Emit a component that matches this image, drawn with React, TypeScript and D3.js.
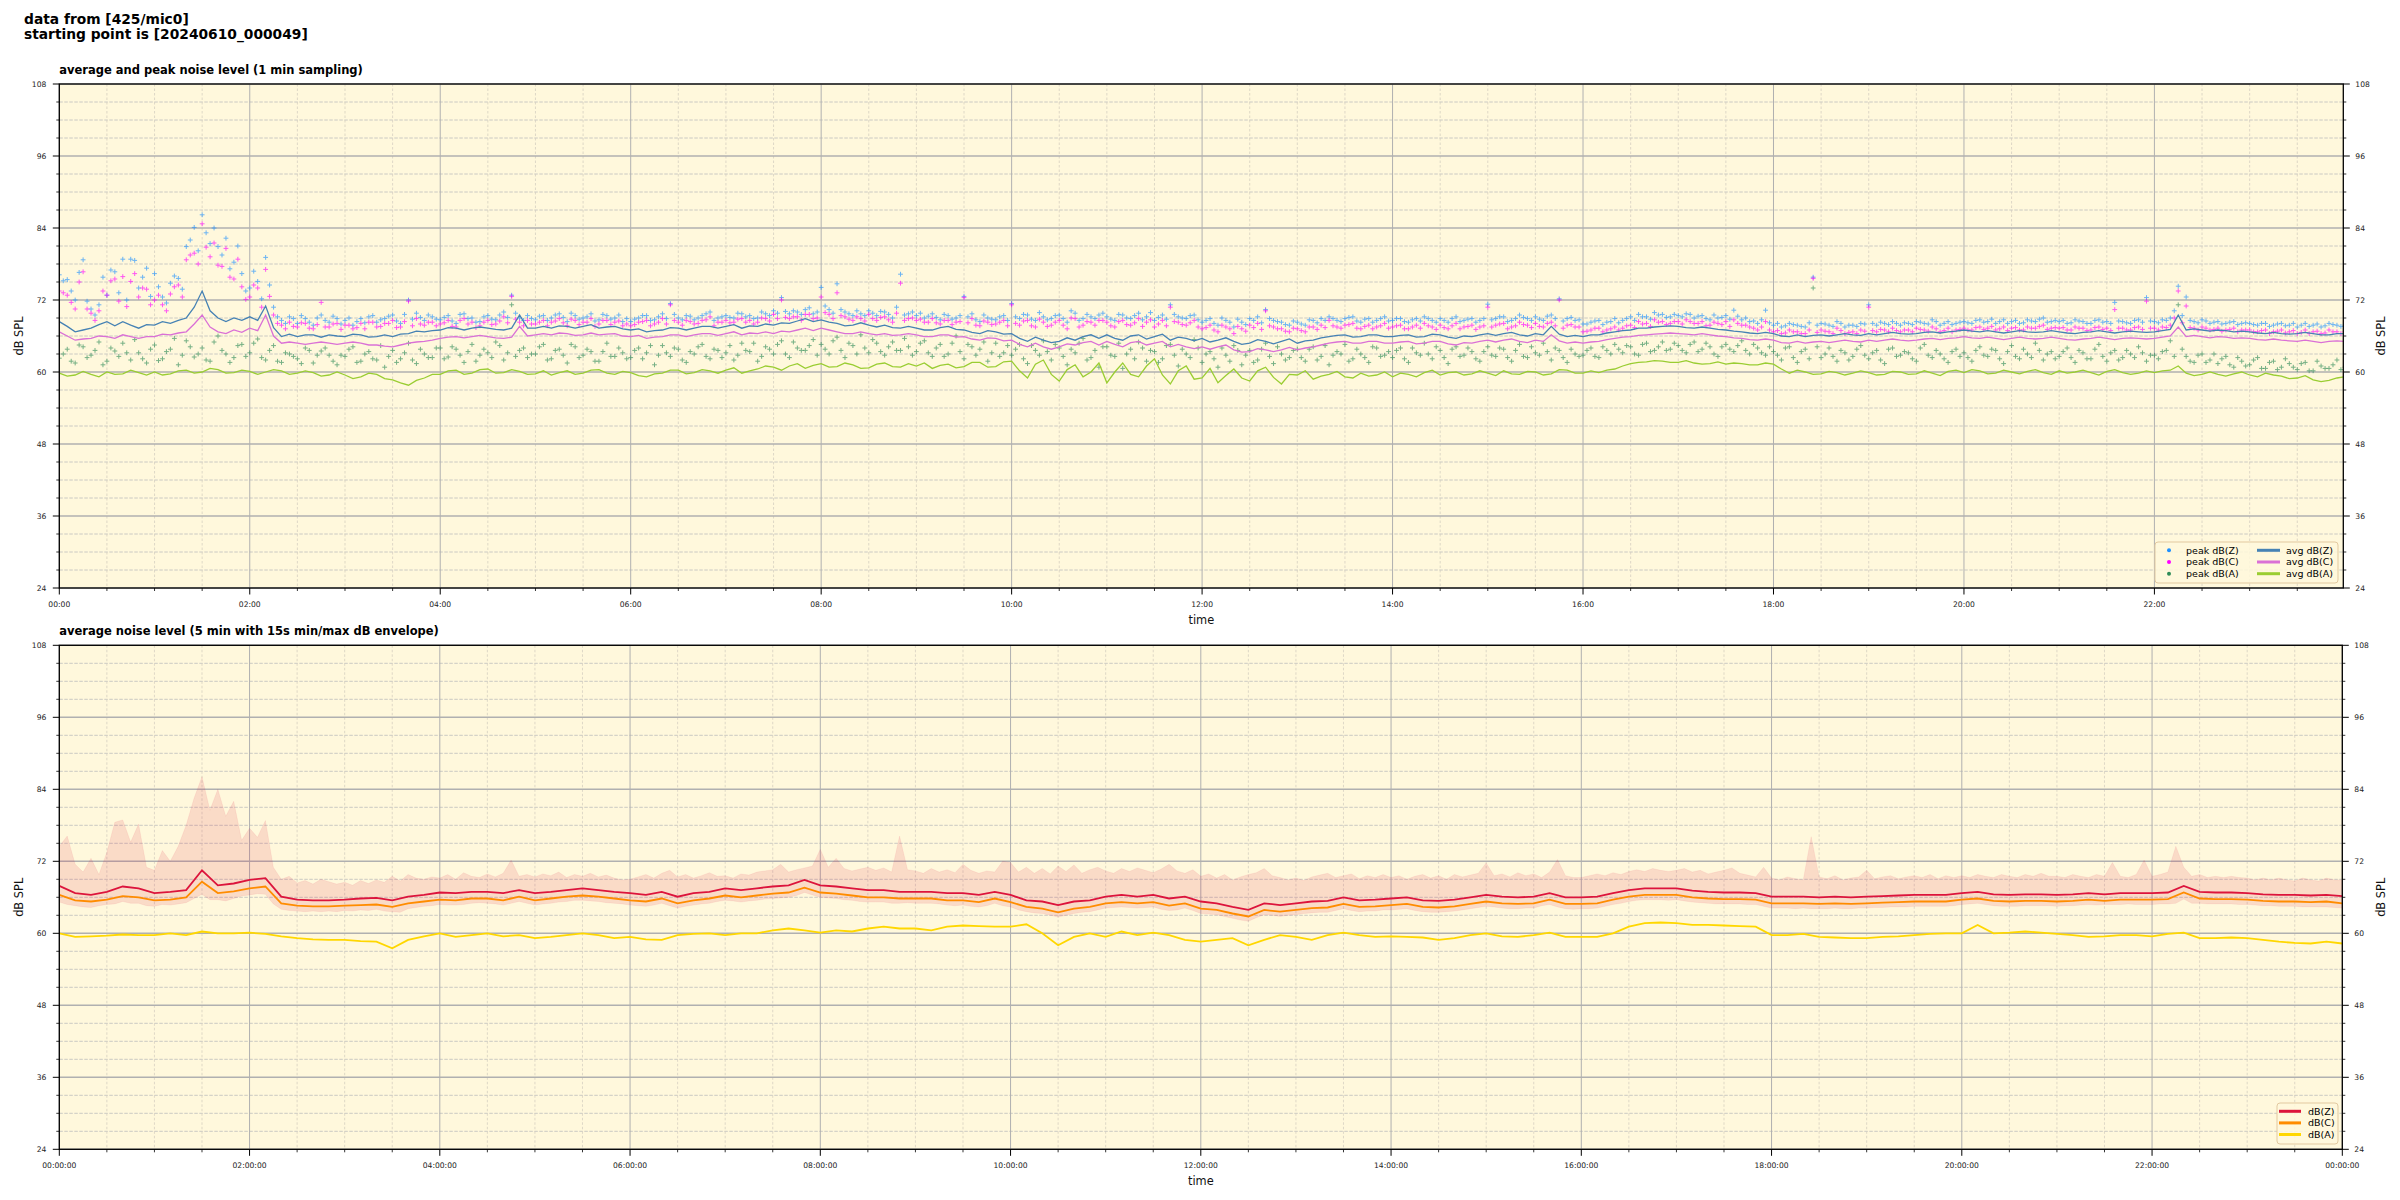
import React from 'react';
import * as d3 from 'd3';

// ---------------- DATA ----------------
// top panel: averaged levels, 5-minute samples (index * 5 min)
const avgZ = [
  68.4, 67.6, 66.7, 67.0, 67.3, 67.9, 68.4, 67.7, 68.4, 67.8, 67.3, 67.9,
  67.8, 68.4, 68.1, 68.6, 69.0, 70.8, 73.5, 70.2, 69.0, 68.4, 69.0, 68.6,
  69.2, 68.6, 71.0, 67.4, 65.9, 66.3, 65.9, 66.2, 66.2, 65.8, 66.2, 66.0,
  65.9, 66.3, 66.2, 65.8, 65.9, 66.2, 65.9, 66.3, 66.4, 66.8, 66.7, 66.9,
  67.0, 67.4, 67.3, 67.0, 67.3, 67.5, 67.3, 67.1, 67.0, 67.3, 69.5, 67.3,
  67.3, 67.6, 67.3, 67.7, 67.6, 67.3, 67.6, 67.9, 67.3, 67.5, 67.6, 67.2,
  67.0, 67.2, 66.7, 66.9, 67.0, 67.4, 67.3, 67.0, 67.3, 67.6, 67.6, 67.3,
  67.6, 67.9, 67.3, 67.7, 67.6, 68.0, 67.8, 68.2, 68.1, 68.5, 68.9, 68.4,
  68.7, 68.3, 68.1, 67.7, 67.8, 68.2, 67.8, 67.5, 67.8, 67.4, 67.3, 67.6,
  67.3, 67.0, 67.0, 67.4, 67.6, 67.1, 67.0, 66.6, 66.4, 66.9, 66.7, 66.3,
  66.4, 65.6, 65.1, 65.8, 65.3, 64.9, 65.1, 65.7, 65.3, 65.9, 66.2, 65.6,
  66.2, 65.6, 65.3, 66.0, 66.2, 65.5, 65.9, 66.3, 65.3, 65.8, 65.6, 65.2,
  65.6, 65.0, 65.3, 65.7, 65.1, 64.6, 64.8, 65.4, 65.1, 64.7, 65.1, 65.5,
  64.8, 65.2, 65.3, 65.7, 65.9, 66.1, 66.2, 65.8, 65.9, 66.2, 66.2, 65.9,
  65.9, 66.1, 66.2, 65.8, 65.9, 66.3, 66.2, 65.8, 65.6, 66.0, 65.9, 66.2,
  66.4, 66.1, 66.4, 66.6, 66.2, 66.0, 66.4, 66.2, 67.6, 66.3, 65.9, 66.1,
  65.9, 66.2, 66.2, 66.5, 66.7, 66.9, 67.0, 67.3, 67.3, 67.5, 67.6, 67.7,
  67.6, 67.4, 67.3, 67.5, 67.3, 67.1, 67.0, 66.8, 66.7, 66.5, 66.4, 66.6,
  66.4, 66.0, 65.9, 66.2, 65.9, 66.1, 66.2, 66.0, 66.2, 66.4, 66.2, 66.1,
  66.4, 66.2, 66.4, 66.6, 66.4, 66.3, 66.4, 66.6, 66.7, 66.5, 66.7, 66.8,
  67.0, 66.8, 66.7, 66.9, 66.7, 66.5, 66.7, 66.9, 66.7, 66.6, 66.7, 66.9,
  66.7, 66.5, 66.4, 66.6, 66.7, 66.9, 66.7, 66.5, 66.7, 66.8, 66.7, 66.6,
  66.7, 66.9, 67.1, 69.5, 67.0, 67.2, 67.0, 66.8, 67.0, 66.9, 66.7, 66.8,
  66.7, 66.5, 66.4, 66.6, 66.4, 66.3, 66.4, 66.6, 66.4, 66.2, 66.2, 66.4,
  66.4,
];
const avgC = [
  66.7, 66.0, 65.3, 65.5, 65.6, 66.0, 65.9, 65.6, 66.2, 65.9, 65.6, 65.9,
  65.9, 66.3, 66.2, 66.5, 66.7, 68.0, 69.5, 67.5, 66.7, 66.4, 67.0, 66.6,
  67.3, 66.9, 69.5, 66.0, 64.8, 65.0, 64.8, 64.6, 64.8, 65.0, 64.8, 64.6,
  64.8, 65.0, 64.8, 64.5, 64.5, 64.3, 64.2, 64.5, 64.8, 65.0, 65.1, 65.3,
  65.6, 65.8, 65.9, 65.7, 65.9, 66.1, 65.9, 65.7, 65.6, 65.8, 67.6, 66.0,
  66.2, 66.4, 66.2, 66.5, 66.4, 66.1, 66.2, 66.5, 66.2, 66.3, 66.4, 66.0,
  65.9, 66.1, 65.6, 65.8, 65.9, 66.2, 66.2, 65.9, 66.2, 66.4, 66.4, 66.1,
  66.4, 66.7, 66.2, 66.5, 66.4, 66.7, 66.4, 66.8, 66.7, 67.0, 67.3, 66.9,
  67.3, 67.0, 66.7, 66.4, 66.4, 66.7, 66.4, 66.2, 66.4, 66.1, 66.2, 66.4,
  66.2, 65.9, 65.9, 66.2, 66.2, 65.8, 65.9, 65.5, 65.3, 65.7, 65.6, 65.2,
  65.3, 64.6, 64.2, 64.8, 64.2, 63.8, 64.2, 64.7, 64.5, 64.9, 65.1, 64.5,
  65.1, 64.6, 64.2, 64.9, 65.1, 64.5, 64.8, 65.1, 64.2, 64.6, 64.2, 63.9,
  64.2, 63.8, 64.2, 64.5, 63.7, 63.3, 63.4, 63.9, 63.7, 63.4, 63.7, 64.1,
  63.7, 64.0, 64.2, 64.5, 64.8, 65.0, 65.1, 64.8, 64.8, 65.1, 65.1, 64.8,
  64.8, 65.0, 65.1, 64.7, 64.8, 65.1, 65.1, 64.7, 64.5, 64.9, 64.8, 65.1,
  65.3, 65.0, 65.3, 65.5, 65.1, 64.9, 65.3, 65.1, 66.2, 65.2, 64.8, 65.0,
  64.8, 65.0, 65.1, 65.4, 65.6, 65.8, 65.9, 66.1, 66.2, 66.3, 66.4, 66.5,
  66.4, 66.3, 66.2, 66.4, 66.2, 66.0, 65.9, 65.7, 65.6, 65.4, 65.3, 65.5,
  65.3, 64.9, 64.8, 65.1, 64.8, 65.0, 65.1, 64.9, 65.1, 65.3, 65.1, 65.0,
  65.3, 65.1, 65.3, 65.5, 65.3, 65.2, 65.3, 65.5, 65.6, 65.4, 65.6, 65.7,
  65.9, 65.7, 65.6, 65.8, 65.6, 65.4, 65.6, 65.8, 65.6, 65.5, 65.6, 65.8,
  65.6, 65.4, 65.3, 65.5, 65.6, 65.8, 65.6, 65.4, 65.6, 65.7, 65.6, 65.5,
  65.6, 65.8, 66.0, 67.5, 65.9, 66.1, 65.9, 65.7, 65.9, 65.8, 65.6, 65.7,
  65.6, 65.4, 65.3, 65.5, 65.3, 65.2, 65.1, 65.3, 65.1, 64.9, 65.1, 65.2,
  65.1,
];
const avgA = [
  59.8, 59.3, 59.5, 60.1, 59.6, 59.2, 60.0, 59.6, 59.7, 60.3, 59.9, 59.5,
  60.0, 59.5, 59.7, 60.2, 60.3, 59.8, 60.0, 60.6, 60.4, 59.8, 59.9, 60.3,
  60.1, 59.6, 60.0, 60.4, 60.2, 59.6, 59.8, 60.2, 59.9, 59.3, 59.5, 60.0,
  59.5, 58.9, 59.2, 59.8, 59.6, 58.9, 58.7, 58.2, 57.8, 58.6, 59.0, 59.6,
  59.6, 60.2, 60.3, 59.6, 59.8, 60.4, 60.5, 59.8, 59.9, 60.4, 60.1, 59.6,
  59.7, 60.2, 59.5, 59.9, 60.2, 59.6, 59.8, 60.3, 60.4, 59.8, 59.6, 60.1,
  59.9, 59.4, 59.2, 59.7, 59.8, 60.3, 60.3, 59.7, 59.9, 60.4, 60.2, 59.8,
  60.3, 60.7, 59.8, 60.2, 60.5, 61.0, 60.8, 60.3, 61.0, 61.4, 60.6, 61.1,
  61.4, 60.8, 60.9, 61.5, 61.2, 60.6, 60.7, 61.3, 61.5, 60.9, 60.8, 61.4,
  61.0, 61.5, 60.6, 61.1, 61.3, 60.7, 60.9, 61.6, 61.6, 60.8, 60.9, 61.7,
  61.8, 60.2, 59.0, 61.3, 62.0, 59.6, 58.5, 60.4, 61.2, 59.2, 60.0, 61.5,
  58.2, 60.0, 61.5, 59.6, 59.2, 61.0, 62.2, 59.5, 58.0, 60.2, 61.0, 58.8,
  59.0, 60.6, 58.2, 59.4, 60.5, 59.0, 58.5, 60.2, 60.8, 59.1, 58.0, 59.6,
  59.5, 60.2, 58.8, 59.3, 59.6, 60.1, 59.2, 59.0, 59.8, 59.3, 59.5, 60.0,
  59.2, 59.8, 59.6, 59.2, 59.9, 60.3, 59.5, 59.9, 60.0, 59.5, 59.7, 60.2,
  59.8, 59.4, 60.2, 59.7, 59.6, 60.1, 60.0, 59.5, 59.7, 60.4, 60.3, 59.8,
  59.8, 60.2, 59.9, 60.3, 60.5, 61.0, 61.4, 61.6, 61.7, 61.9, 61.8, 61.6,
  61.6, 61.9, 61.5, 61.3, 61.4, 61.7, 61.3, 61.5, 61.4, 61.2, 61.2, 61.5,
  61.3, 60.5, 59.8, 60.3, 60.0, 59.6, 59.7, 60.1, 59.9, 59.5, 59.8, 60.2,
  59.9, 59.5, 59.6, 60.1, 60.0, 59.6, 59.7, 60.2, 59.8, 59.4, 60.1, 60.3,
  59.9, 60.4, 60.2, 59.7, 59.8, 60.3, 60.0, 59.7, 60.1, 60.4, 59.9, 59.6,
  60.2, 59.8, 60.0, 60.3, 59.9, 59.5, 60.1, 60.4, 59.9, 59.6, 59.8, 60.2,
  59.9, 60.2, 60.3, 61.0, 59.8, 59.4, 59.6, 60.0, 59.6, 59.3, 59.7, 60.0,
  59.5, 59.2, 59.8, 59.5, 59.3, 58.9, 59.0, 59.4, 58.7, 58.4, 58.6, 59.0,
  59.2,
];
// top panel: 1-min peaks, samples at index * 5 min
const peakZ = [
  76.2, 75.4, 72.0, 78.7, 70.5, 71.2, 72.8, 76.7, 78.8, 78.8, 74.0, 77.3,
  76.4, 72.5, 74.8, 75.6, 80.9, 84.1, 86.2, 81.4, 80.9, 82.3, 78.3, 76.4,
  74.0, 75.1, 79.1, 70.8, 68.6, 69.2, 68.1, 68.9, 67.8, 69.5, 68.3, 68.9,
  68.6, 67.8, 68.9, 69.2, 68.3, 68.9, 69.5, 68.1, 72.0, 69.8, 68.6, 69.2,
  68.7, 69.4, 68.1, 69.7, 69.0, 68.4, 69.4, 68.7, 70.0, 72.8, 69.0, 69.4,
  68.7, 69.4, 69.0, 69.7, 68.4, 69.4, 69.0, 69.7, 68.7, 69.4, 69.0, 68.4,
  68.4, 69.0, 69.4, 68.7, 69.7, 71.4, 69.0, 69.4, 68.7, 69.4, 70.0, 69.0,
  69.4, 69.0, 69.7, 69.4, 69.0, 69.7, 70.2, 72.4, 69.7, 70.0, 70.4, 69.7,
  74.1, 70.4, 74.7, 70.0, 69.4, 69.7, 70.2, 69.4, 70.0, 69.0, 76.3, 69.7,
  69.4, 69.0, 69.7, 68.7, 69.4, 69.0, 72.6, 69.7, 68.4, 69.0, 68.7, 69.4,
  71.4, 68.9, 69.5, 68.6, 69.2, 68.9, 69.5, 68.3, 69.8, 68.9, 69.2, 69.5,
  69.2, 68.6, 69.5, 68.9, 69.8, 69.2, 68.6, 69.5, 71.2, 69.2, 68.9, 69.5,
  68.3, 68.9, 67.8, 68.6, 67.5, 68.3, 68.9, 69.2, 70.4, 68.6, 68.3, 67.8,
  68.3, 67.8, 68.6, 68.9, 69.2, 68.6, 68.9, 69.2, 68.3, 68.9, 68.6, 69.2,
  68.6, 68.9, 68.3, 68.9, 69.2, 68.6, 68.9, 68.3, 69.2, 68.6, 68.9, 68.6,
  71.3, 68.9, 69.2, 68.6, 69.5, 68.9, 69.2, 68.6, 69.5, 72.2, 68.9, 68.6,
  68.0, 68.3, 68.6, 68.3, 68.9, 68.6, 69.2, 69.6, 69.2, 69.9, 69.6, 69.2,
  69.4, 69.7, 69.0, 69.4, 68.7, 69.0, 69.4, 70.3, 68.7, 68.4, 68.1, 70.3,
  67.8, 67.5, 68.1, 67.8, 67.5, 75.8, 68.1, 67.8, 68.4, 67.5, 67.8, 68.1,
  71.2, 67.8, 68.1, 68.4, 67.8, 68.1, 68.4, 68.1, 68.7, 67.8, 68.4, 68.1,
  68.4, 68.1, 68.7, 68.4, 68.1, 68.7, 68.4, 68.1, 68.7, 68.4, 69.0, 68.4,
  68.4, 68.1, 68.7, 68.4, 68.1, 68.7, 68.4, 71.6, 68.4, 68.1, 68.7, 72.4,
  68.4, 68.7, 69.0, 74.3, 72.5, 68.4, 68.7, 68.1, 68.4, 68.1, 68.4, 68.1,
  68.1, 67.8, 68.1, 67.8, 68.1, 67.8, 67.5, 68.1, 67.8, 67.5, 68.1, 67.8,
  67.8,
];
const peakC = [
  73.5, 72.8, 70.5, 76.7, 69.8, 70.2, 72.8, 75.5, 75.9, 75.1, 72.5, 73.8,
  72.0, 71.2, 73.0, 74.5, 78.7, 79.8, 84.7, 79.2, 77.8, 80.6, 75.5, 74.2,
  72.5, 74.0, 77.1, 69.5, 67.8, 68.3, 67.5, 68.1, 67.2, 71.6, 67.5, 68.1,
  67.8, 67.2, 68.1, 68.3, 67.5, 68.1, 68.6, 67.5, 71.8, 68.9, 67.8, 68.3,
  68.0, 68.6, 67.5, 68.9, 68.3, 67.7, 68.6, 68.0, 69.2, 72.6, 68.3, 68.6,
  68.0, 68.6, 68.3, 68.9, 67.7, 68.6, 68.3, 68.9, 68.0, 68.6, 68.3, 67.7,
  67.7, 68.3, 68.6, 68.0, 68.9, 71.2, 68.3, 68.6, 68.0, 68.6, 69.2, 68.3,
  68.6, 68.3, 68.9, 68.6, 68.3, 68.9, 69.6, 72.0, 68.9, 69.2, 69.6, 68.9,
  72.5, 69.6, 73.2, 69.2, 68.6, 68.9, 69.6, 68.6, 69.2, 68.3, 74.8, 68.9,
  68.6, 68.3, 68.9, 68.0, 68.6, 68.3, 72.4, 68.9, 67.7, 68.3, 68.0, 68.6,
  71.2, 67.8, 68.6, 67.5, 68.3, 67.8, 68.6, 67.2, 68.9, 67.8, 68.3, 68.6,
  68.3, 67.5, 68.6, 67.8, 68.9, 68.3, 67.5, 68.6, 70.8, 68.3, 67.8, 68.6,
  67.2, 67.8, 66.7, 67.5, 66.4, 67.2, 67.8, 68.1, 70.2, 67.5, 67.2, 66.7,
  67.2, 66.7, 67.5, 67.8, 68.6, 67.5, 67.8, 68.1, 67.2, 67.8, 67.5, 68.1,
  67.5, 67.8, 67.2, 67.8, 68.1, 67.5, 67.8, 67.2, 68.1, 67.5, 67.8, 67.5,
  70.8, 67.8, 68.1, 67.5, 68.3, 67.8, 68.1, 67.5, 68.3, 72.0, 67.8, 67.5,
  66.7, 67.0, 67.3, 67.0, 67.5, 67.3, 67.8, 68.4, 68.1, 68.7, 68.4, 68.1,
  68.4, 68.7, 68.1, 68.4, 67.8, 68.1, 68.4, 68.7, 67.8, 67.5, 67.0, 68.4,
  66.7, 66.4, 67.0, 66.7, 66.4, 75.6, 67.0, 66.7, 67.3, 66.4, 66.7, 67.0,
  70.8, 66.7, 67.0, 67.3, 66.7, 67.0, 67.3, 67.0, 67.5, 66.7, 67.3, 67.0,
  67.3, 67.0, 67.5, 67.3, 67.0, 67.5, 67.3, 67.0, 67.5, 67.3, 67.8, 67.3,
  67.3, 67.0, 67.5, 67.3, 67.0, 67.5, 67.3, 70.4, 67.3, 67.0, 67.5, 71.8,
  67.3, 67.5, 67.8, 73.5, 71.0, 67.3, 67.5, 67.0, 67.3, 67.0, 67.3, 67.0,
  67.0, 66.7, 67.0, 66.7, 67.0, 66.7, 66.4, 67.0, 66.7, 66.4, 67.0, 66.7,
  66.7,
];
const peakA = [
  62.3, 63.8, 61.5, 64.2, 62.8, 65.0, 61.8, 63.5, 64.8, 62.0, 63.2, 61.5,
  64.5, 62.2, 63.8, 61.2, 65.2, 62.5, 64.0, 61.8, 66.0, 63.0, 62.4, 64.6,
  63.2, 65.5, 62.0, 64.4, 61.6, 63.0, 62.2, 64.0, 61.5, 63.5, 62.8, 61.2,
  62.6, 64.2, 61.8, 63.4, 62.0, 60.8, 63.6, 62.2, 64.8, 61.4, 63.0, 62.4,
  64.0, 62.5, 63.8, 61.6, 64.6, 62.8, 63.2, 65.0, 62.0, 71.2, 63.6, 62.4,
  63.0, 64.6, 62.2, 63.8, 61.5, 64.2, 62.8, 63.4, 61.8, 64.8, 62.6, 63.2,
  62.4, 64.0, 63.2, 61.2, 64.4, 62.6, 63.8, 61.6, 63.0, 64.6, 62.2, 63.6,
  63.2, 62.0, 64.8, 63.4, 61.8, 64.2, 63.0, 65.2, 62.4, 64.0, 63.6, 65.4,
  64.6, 63.0, 65.8, 62.4, 64.4, 66.2, 63.2, 64.8, 62.8, 65.0, 63.6, 64.2,
  63.4, 65.2, 62.6, 64.6, 63.0, 66.0, 62.2, 64.2, 63.8, 61.8, 64.8, 63.2,
  62.8, 64.6, 61.4, 63.6, 65.2, 62.0, 64.0, 61.2, 63.2, 65.6, 62.4, 60.8,
  64.2, 62.6, 60.6, 63.8, 65.0, 61.8, 63.4, 62.2, 64.6, 61.0, 63.0, 65.4,
  61.6, 63.4, 60.8, 62.8, 64.4, 61.2, 63.6, 62.0, 64.8, 61.4, 63.0, 62.4,
  63.8, 61.8, 64.2, 62.6, 61.2, 63.4, 64.6, 62.2, 63.0, 61.6, 64.0, 62.8,
  62.4, 64.0, 61.6, 63.2, 64.8, 62.2, 63.6, 61.4, 64.2, 62.8, 63.4, 61.8,
  64.2, 62.6, 63.8, 61.8, 64.6, 62.4, 63.2, 64.8, 62.0, 63.6, 61.6, 63.0,
  62.8, 64.0, 62.4, 63.6, 64.6, 63.2, 64.2, 62.8, 64.8, 63.6, 65.0, 63.8,
  64.4, 63.2, 65.0, 63.8, 64.2, 62.6, 64.6, 63.4, 65.2, 63.0, 64.0, 62.8,
  63.4, 62.0, 64.2, 61.6, 63.8, 74.0, 62.4, 64.0, 61.8, 63.2, 62.6, 64.4,
  62.2, 63.6, 61.4, 64.0, 62.8, 63.2, 61.8, 64.6, 62.4, 63.0, 61.6, 63.8,
  63.2, 61.8, 64.2, 62.6, 63.6, 61.4, 64.4, 62.2, 63.0, 64.8, 62.0, 63.4,
  62.6, 64.0, 61.6, 63.2, 62.2, 64.6, 61.8, 63.6, 62.4, 63.0, 64.2, 61.8,
  62.8, 63.4, 65.2, 71.2, 62.6, 61.6, 63.0, 62.0, 61.4, 62.6, 60.8, 61.8,
  61.2, 62.4, 60.6, 61.8, 60.8, 61.4, 60.4, 61.6, 60.2, 61.0, 60.6, 62.0,
  60.8,
];
// top panel: 1-min peaks, samples at index * 5 min + 2.5 min
const peakZMid = [
  75.2, 73.5, 76.6, 71.8, 69.5, 75.8, 77.0, 73.2, 72.0, 78.6, 75.8, 72.6,
  74.2, 71.5, 76.0, 73.8, 82.0, 80.2, 83.2, 84.0, 79.5, 77.2, 81.0, 73.5,
  76.8, 72.2, 74.5, 69.2, 68.1, 68.9, 69.4, 68.3, 69.0, 68.6, 69.3, 68.0,
  69.0, 68.4, 68.2, 69.4, 68.7, 69.3, 68.5, 69.6, 68.8, 69.1, 69.5, 68.8,
  69.1, 68.5, 69.6, 68.9, 68.3, 69.2, 68.8, 69.5, 69.1, 69.8, 68.6, 68.9,
  69.3, 68.6, 69.5, 69.1, 69.8, 68.8, 69.2, 68.5, 69.6, 68.8, 69.5, 68.9,
  68.8, 69.4, 68.6, 69.2, 68.9, 69.6, 68.7, 69.3, 69.0, 69.7, 68.6, 69.2,
  69.1, 69.8, 69.2, 68.9, 70.0, 69.4, 69.8, 70.1, 70.2, 69.6, 70.7, 70.0,
  71.0, 69.8, 70.4, 69.7, 70.2, 69.4, 69.8, 70.1, 69.6, 70.8, 69.5, 70.0,
  69.8, 69.3, 69.1, 69.6, 68.8, 69.4, 69.2, 68.7, 69.5, 68.8, 69.2, 68.6,
  69.2, 69.6, 68.8, 69.9, 68.7, 69.4, 68.9, 70.2, 68.6, 69.6, 68.9, 69.8,
  68.8, 69.6, 69.0, 69.4, 68.7, 69.9, 69.1, 68.8, 69.6, 69.0, 69.4, 68.7,
  68.6, 68.1, 69.0, 68.3, 68.8, 67.9, 68.6, 68.2, 68.9, 68.4, 67.9, 68.5,
  68.0, 68.7, 68.2, 68.6, 68.9, 68.4, 69.1, 68.5, 68.8, 68.3, 68.9, 68.5,
  68.9, 68.4, 68.7, 68.5, 68.9, 68.3, 68.6, 68.9, 68.4, 68.8, 68.3, 68.9,
  68.7, 69.2, 68.4, 68.9, 69.1, 68.6, 68.8, 69.3, 68.9, 68.5, 69.1, 68.7,
  68.0, 68.5, 67.9, 68.4, 68.2, 68.9, 68.6, 69.2, 68.8, 69.5, 69.1, 69.6,
  69.2, 69.6, 69.3, 68.9, 69.5, 69.1, 68.8, 69.3, 69.0, 68.5, 68.7, 68.2,
  68.1, 67.7, 67.9, 67.6, 68.2, 67.8, 68.0, 67.6, 68.1, 67.8, 67.6, 68.0,
  68.1, 68.3, 67.9, 68.1, 68.2, 67.9, 68.3, 68.0, 68.4, 68.1, 67.9, 68.3,
  68.2, 68.6, 68.3, 68.8, 68.4, 68.1, 68.6, 68.2, 68.5, 68.8, 68.3, 68.6,
  68.6, 68.2, 68.5, 68.1, 68.6, 68.3, 68.1, 68.5, 68.2, 68.6, 68.3, 68.5,
  68.2, 68.6, 70.2, 69.4, 68.6, 68.2, 68.5, 68.3, 68.0, 68.3, 67.9, 68.2,
  67.9, 68.1, 67.6, 68.0, 67.7, 68.1, 67.8, 67.6, 68.0, 67.7, 67.9, 67.6,
];
const peakCMid = [
  73.2, 71.6, 75.0, 70.5, 68.6, 73.5, 75.2, 71.8, 70.9, 76.4, 74.0, 71.2,
  72.8, 70.2, 74.2, 72.5, 79.5, 78.0, 80.8, 81.5, 77.6, 75.8, 78.8, 72.1,
  74.5, 70.8, 72.6, 68.1, 67.2, 67.6, 68.2, 67.3, 67.9, 67.5, 68.0, 67.1,
  67.8, 67.4, 67.2, 68.3, 67.6, 68.1, 67.4, 68.4, 67.7, 68.0, 68.3, 67.7,
  68.2, 67.6, 68.6, 68.0, 67.4, 68.3, 67.9, 68.5, 68.2, 68.8, 67.7, 68.0,
  68.3, 67.7, 68.5, 68.2, 68.8, 67.9, 68.3, 67.6, 68.6, 67.9, 68.5, 68.0,
  67.9, 68.4, 67.7, 68.3, 68.0, 68.6, 67.8, 68.4, 68.1, 68.7, 67.7, 68.3,
  68.2, 68.8, 68.3, 68.0, 69.0, 68.5, 68.9, 69.1, 69.2, 68.6, 69.6, 69.0,
  69.9, 68.9, 69.4, 68.8, 69.2, 68.5, 68.9, 69.1, 68.7, 69.8, 68.6, 69.0,
  68.8, 68.3, 68.2, 68.6, 67.9, 68.4, 68.2, 67.8, 68.5, 67.9, 68.3, 67.7,
  68.1, 68.5, 67.7, 68.8, 67.6, 68.3, 67.8, 69.0, 67.5, 68.4, 67.8, 68.6,
  67.7, 68.4, 67.9, 68.2, 67.6, 68.7, 68.0, 67.7, 68.4, 67.9, 68.2, 67.5,
  67.4, 67.0, 67.8, 67.2, 67.6, 66.8, 67.4, 67.1, 67.7, 67.2, 66.8, 67.3,
  66.9, 67.5, 67.1, 67.4, 67.7, 67.3, 67.9, 67.3, 67.6, 67.2, 67.7, 67.3,
  67.7, 67.2, 67.5, 67.3, 67.7, 67.1, 67.4, 67.7, 67.2, 67.6, 67.1, 67.7,
  67.5, 68.0, 67.2, 67.7, 67.9, 67.4, 67.6, 68.1, 67.7, 67.3, 67.9, 67.5,
  66.8, 67.3, 66.7, 67.2, 67.0, 67.7, 67.4, 68.0, 67.6, 68.3, 67.9, 68.4,
  68.0, 68.4, 68.1, 67.7, 68.3, 67.9, 67.6, 68.1, 67.8, 67.3, 67.5, 67.0,
  66.9, 66.5, 66.7, 66.4, 67.0, 66.6, 66.8, 66.4, 66.9, 66.6, 66.4, 66.8,
  66.9, 67.1, 66.7, 66.9, 67.0, 66.7, 67.1, 66.8, 67.2, 66.9, 66.7, 67.1,
  67.0, 67.4, 67.1, 67.6, 67.2, 66.9, 67.4, 67.0, 67.3, 67.6, 67.1, 67.4,
  67.4, 67.0, 67.3, 66.9, 67.4, 67.1, 66.9, 67.3, 67.0, 67.4, 67.1, 67.3,
  67.0, 67.4, 69.0, 68.2, 67.4, 67.0, 67.3, 67.1, 66.8, 67.1, 66.7, 67.0,
  66.7, 66.9, 66.4, 66.8, 66.5, 66.9, 66.6, 66.4, 66.8, 66.5, 66.7, 66.4,
];
const peakAMid = [
  63.0, 61.8, 64.5, 62.4, 63.6, 61.2, 64.0, 62.6, 63.2, 65.4, 62.2, 63.8,
  61.9, 63.4, 65.6, 62.8, 64.2, 63.0, 62.0, 65.0, 63.6, 61.6, 64.4, 62.6,
  64.8, 62.4, 63.6, 61.8, 63.2, 62.6, 61.4, 63.6, 62.8, 64.0, 61.8, 62.8,
  63.8, 61.6, 63.0, 62.2, 64.4, 62.6, 61.6, 63.2, 62.0, 63.8, 62.4, 64.0,
  62.2, 64.2, 62.8, 63.4, 61.8, 63.8, 62.4, 64.4, 63.2, 62.6, 64.0, 63.0,
  64.2, 62.0, 63.6, 62.8, 64.6, 62.4, 63.8, 61.8, 63.4, 62.6, 64.0, 62.2,
  63.6, 62.2, 64.4, 62.8, 63.2, 64.0, 62.0, 63.4, 64.2, 62.6, 63.8, 62.4,
  64.4, 62.8, 63.6, 64.8, 62.6, 63.8, 64.6, 63.0, 65.0, 63.6, 64.4, 62.8,
  63.8, 65.2, 63.6, 64.8, 63.0, 64.0, 65.4, 63.4, 64.2, 63.6, 65.6, 62.8,
  64.8, 63.2, 64.0, 62.6, 64.8, 63.4, 64.6, 62.8, 65.0, 63.2, 62.6, 64.4,
  63.8, 62.2, 64.4, 62.8, 63.4, 64.6, 62.6, 63.8, 64.8, 62.0, 63.6, 64.2,
  62.8, 64.8, 63.0, 62.2, 64.0, 63.6, 61.6, 64.4, 62.8, 63.8, 62.4, 64.0,
  63.0, 62.2, 64.0, 61.8, 63.6, 62.8, 61.6, 63.8, 62.6, 64.2, 62.0, 63.6,
  62.4, 63.8, 62.0, 64.4, 62.8, 63.0, 61.8, 63.8, 62.4, 64.2, 62.6, 63.4,
  63.6, 62.2, 64.0, 62.8, 63.0, 64.2, 62.4, 63.8, 62.6, 64.0, 62.2, 63.4,
  62.8, 64.0, 62.4, 63.6, 62.6, 64.2, 62.8, 63.4, 64.0, 62.4, 63.8, 62.6,
  63.6, 62.6, 64.2, 63.0, 63.8, 64.4, 63.0, 64.6, 63.4, 64.2, 63.6, 64.8,
  63.6, 64.6, 63.4, 64.8, 63.0, 64.2, 63.8, 64.4, 63.6, 64.6, 63.2, 64.2,
  62.8, 64.0, 62.4, 63.4, 62.2, 64.2, 63.0, 62.6, 63.6, 62.0, 63.8, 62.8,
  63.2, 62.0, 63.8, 62.6, 63.4, 62.2, 64.0, 62.8, 63.6, 62.2, 63.4, 62.6,
  62.4, 63.6, 62.8, 63.8, 62.2, 63.4, 62.6, 63.8, 62.4, 63.6, 63.0, 62.2,
  63.4, 62.4, 63.6, 62.2, 63.8, 62.6, 63.2, 62.0, 63.6, 62.4, 63.2, 62.8,
  62.2, 63.6, 62.6, 63.8, 61.8, 62.8, 61.6, 63.0, 62.2, 61.2, 62.4, 61.0,
  62.0, 60.6, 61.6, 60.4, 62.2, 60.8, 61.4, 60.2, 61.8, 60.6, 61.2, 60.4,
];

// bottom panel: 5-min averages, 10-minute samples (index * 10 min)
const levelZ = [
  67.9, 66.7, 66.4, 66.9, 67.8, 67.5,
  66.7, 66.9, 67.2, 70.5, 68.0, 68.3,
  68.9, 69.2, 66.1, 65.6, 65.5, 65.5,
  65.6, 65.8, 65.9, 65.5, 66.1, 66.4,
  66.8, 66.7, 66.9, 66.9, 66.7, 67.2,
  66.7, 66.9, 67.2, 67.5, 67.2, 66.9,
  66.7, 66.4, 66.9, 66.1, 66.7, 66.9,
  67.5, 67.2, 67.5, 67.8, 68.0, 68.9,
  68.0, 67.8, 67.5, 67.2, 67.2, 66.9,
  66.9, 66.9, 66.7, 66.7, 66.4, 66.9,
  66.4, 65.5, 65.3, 64.7, 65.3, 65.5,
  66.1, 66.4, 66.1, 66.4, 65.8, 66.1,
  65.3, 65.0, 64.4, 63.9, 65.0, 64.7,
  65.0, 65.3, 65.4, 66.0, 65.5, 65.6,
  65.8, 66.0, 65.5, 65.4, 65.6, 66.0,
  66.4, 66.1, 66.0, 66.1, 66.7, 66.0,
  66.0, 66.1, 66.7, 67.2, 67.5, 67.5,
  67.5, 67.1, 66.9, 66.8, 66.8, 66.7,
  66.1, 66.1, 66.1, 66.0, 66.1, 66.0,
  66.1, 66.2, 66.3, 66.4, 66.4, 66.4,
  66.7, 66.9, 66.5, 66.4, 66.5, 66.5,
  66.4, 66.5, 66.7, 66.5, 66.7, 66.7,
  66.7, 66.8, 67.9, 66.9, 66.8, 66.8,
  66.7, 66.5, 66.4, 66.4, 66.3, 66.4,
  66.2,
];
const levelC = [
  66.4, 65.5, 65.3, 65.6, 66.2, 66.0,
  65.5, 65.6, 66.0, 68.6, 66.7, 67.0,
  67.5, 67.8, 65.0, 64.6, 64.5, 64.5,
  64.6, 64.7, 64.8, 64.4, 65.0, 65.3,
  65.6, 65.5, 65.8, 65.8, 65.5, 66.1,
  65.5, 65.8, 66.1, 66.3, 66.1, 65.8,
  65.5, 65.3, 65.8, 65.0, 65.5, 65.8,
  66.3, 66.0, 66.3, 66.6, 66.8, 67.6,
  66.8, 66.6, 66.3, 66.0, 66.0, 65.8,
  65.8, 65.8, 65.5, 65.5, 65.2, 65.8,
  65.2, 64.4, 64.1, 63.5, 64.1, 64.4,
  65.0, 65.2, 65.0, 65.2, 64.6, 65.0,
  64.1, 63.9, 63.3, 62.8, 63.9, 63.6,
  63.9, 64.2, 64.3, 64.9, 64.4, 64.5,
  64.7, 64.9, 64.4, 64.3, 64.5, 64.9,
  65.3, 65.0, 64.9, 65.0, 65.6, 64.9,
  64.9, 65.0, 65.6, 66.1, 66.4, 66.4,
  66.4, 66.0, 65.8, 65.7, 65.7, 65.6,
  65.0, 65.0, 65.0, 64.9, 65.0, 64.9,
  65.0, 65.1, 65.2, 65.3, 65.3, 65.3,
  65.6, 65.8, 65.4, 65.3, 65.4, 65.4,
  65.3, 65.4, 65.6, 65.4, 65.6, 65.6,
  65.6, 65.7, 66.8, 65.8, 65.7, 65.7,
  65.6, 65.4, 65.3, 65.3, 65.2, 65.3,
  65.0,
];
const levelA = [
  60.0, 59.4, 59.5, 59.6, 59.8, 59.7,
  59.7, 60.0, 59.7, 60.3, 60.0, 60.0,
  60.1, 59.9, 59.5, 59.2, 59.0, 58.9,
  58.9, 58.7, 58.6, 57.5, 58.9, 59.5,
  60.0, 59.4, 59.7, 60.0, 59.5, 59.7,
  59.2, 59.4, 59.7, 60.0, 59.7, 59.2,
  59.4, 59.0, 58.9, 59.7, 59.9, 60.0,
  59.7, 60.0, 60.0, 60.5, 60.8, 60.5,
  60.1, 60.5, 60.3, 60.8, 61.1, 60.8,
  60.8, 60.5, 61.1, 61.3, 61.2, 61.1,
  61.1, 61.5, 60.0, 58.0, 59.4, 60.0,
  59.4, 60.3, 59.7, 60.1, 59.7, 58.9,
  58.6, 58.9, 59.2, 58.0, 58.9, 59.7,
  59.4, 58.9, 59.7, 60.1, 59.7, 59.4,
  59.5, 59.4, 59.3, 58.9, 59.2, 59.7,
  60.0, 59.5, 59.4, 59.7, 60.1, 59.4,
  59.4, 59.4, 60.0, 61.1, 61.7, 61.8,
  61.7, 61.4, 61.4, 61.3, 61.2, 61.1,
  59.7, 59.7, 59.9, 59.4, 59.3, 59.2,
  59.2, 59.4, 59.5, 59.7, 59.9, 60.0,
  60.0, 61.4, 60.0, 60.1, 60.3, 60.1,
  59.9, 59.7, 59.4, 59.5, 59.7, 59.7,
  59.5, 59.9, 60.1, 59.2, 59.2, 59.3,
  59.2, 58.9, 58.6, 58.4, 58.3, 58.6,
  58.3,
];
// bottom panel: 15 s min/max envelope, 5-minute samples (index * 5 min)
const envMax = [
  74.5, 76.2, 71.5, 70.2, 72.5, 69.8, 73.5, 78.5, 78.9, 75.2, 78.2, 71.0,
  70.5, 73.8, 72.0, 74.5, 78.0, 82.5, 86.1, 80.5, 84.0, 79.5, 82.0, 75.5,
  77.5, 76.0, 78.8, 71.0, 69.0, 69.5, 68.4, 68.8, 68.2, 69.0, 68.6, 68.2,
  68.5, 68.0, 68.8, 68.3, 68.9, 68.5, 69.5, 68.7, 69.8, 69.2, 69.0, 69.4,
  69.2, 69.8, 69.0, 70.1, 69.5, 69.3, 69.9, 69.4, 70.0, 72.2, 69.5, 69.8,
  69.4, 69.9, 69.6, 70.2, 69.3, 69.8, 69.5, 70.0, 69.4, 69.7, 69.2, 68.9,
  69.0, 69.4, 69.8, 69.2, 70.0, 70.5, 69.4, 69.8, 69.2, 69.6, 70.1, 69.5,
  69.6, 69.2, 69.9, 69.7, 70.2, 70.4, 70.6, 71.5, 70.2, 70.6, 70.9, 71.2,
  74.0, 71.0, 72.5, 70.8, 70.4, 70.7, 71.0, 70.5, 70.9, 70.2, 76.2, 70.6,
  70.4, 70.0, 70.8, 70.2, 70.6, 70.1, 71.5, 70.5, 70.0, 70.4, 70.2, 72.0,
  71.8, 70.2, 71.0, 70.0, 70.8, 69.9, 71.2, 70.3, 71.4, 70.0, 70.6, 71.0,
  70.4, 70.0, 70.8, 70.3, 70.9, 70.5, 70.1, 70.7, 71.5, 70.4, 70.0, 70.6,
  69.5, 69.9, 69.2, 69.8, 68.9, 69.4, 69.8, 70.1, 70.8, 69.6, 69.3, 68.9,
  69.2, 68.8, 69.4, 69.7, 70.0, 69.3, 69.6, 69.9, 69.1, 69.6, 69.3, 69.8,
  69.3, 69.6, 69.0, 69.5, 69.8, 69.2, 69.6, 69.0, 69.8, 69.4, 69.7, 70.0,
  71.7, 69.6, 69.9, 69.4, 70.1, 69.6, 69.9, 69.3, 70.2, 72.3, 69.6, 69.3,
  69.3, 69.6, 69.9, 69.6, 70.1, 69.8, 70.3, 70.6, 70.3, 70.8, 70.5, 70.3,
  70.5, 70.8, 70.2, 70.5, 69.9, 70.2, 70.5, 70.9, 70.0, 69.7, 69.4, 71.0,
  69.2, 68.9, 69.4, 69.1, 68.9, 76.1, 69.4, 69.1, 69.6, 68.9, 69.2, 69.4,
  70.5, 69.1, 69.4, 69.6, 69.1, 69.4, 69.6, 69.3, 69.8, 69.1, 69.6, 69.3,
  69.6, 69.3, 69.8, 69.5, 69.3, 69.8, 69.5, 69.3, 69.8, 69.5, 70.0, 69.5,
  69.5, 69.3, 69.8, 69.5, 69.3, 69.8, 69.5, 71.8, 69.5, 69.3, 69.8, 72.2,
  69.5, 69.8, 70.2, 74.5, 71.0, 69.5, 69.8, 69.3, 69.5, 69.3, 69.5, 69.3,
  69.2, 68.9, 69.2, 68.9, 69.2, 68.9, 68.7, 69.2, 68.9, 68.7, 69.2, 68.9,
  68.9,
];
const envMin = [
  65.2, 64.8, 64.6, 64.4, 64.3, 64.6, 64.8, 64.9, 65.3, 65.0, 65.0, 64.6,
  64.5, 64.8, 64.7, 64.9, 65.1, 65.8, 66.5, 65.6, 65.6, 65.4, 65.8, 66.2,
  66.4, 66.6, 66.5, 64.9, 64.0, 63.8, 63.7, 63.6, 63.7, 63.6, 63.7, 63.6,
  63.8, 63.7, 63.9, 63.8, 64.0, 63.7, 63.6, 63.5, 64.1, 64.3, 64.5, 64.6,
  64.8, 64.7, 64.7, 64.8, 65.0, 65.1, 65.0, 64.9, 64.7, 65.0, 65.3, 65.0,
  64.7, 64.9, 65.0, 65.2, 65.3, 65.5, 65.5, 65.4, 65.3, 65.1, 65.0, 64.9,
  64.7, 64.6, 64.5, 64.7, 65.0, 64.6, 64.2, 64.5, 64.7, 64.9, 65.0, 65.3,
  65.5, 65.4, 65.2, 65.4, 65.5, 65.7, 65.8, 65.9, 66.0, 66.3, 66.8, 66.4,
  66.0, 65.9, 65.8, 65.6, 65.5, 65.3, 65.2, 65.2, 65.2, 65.0, 65.0, 65.1,
  65.0, 65.0, 65.0, 64.9, 64.7, 64.6, 64.7, 64.5, 64.4, 64.6, 65.0, 64.6,
  64.4, 63.9, 63.6, 63.4, 63.3, 63.0, 62.7, 63.0, 63.3, 63.5, 63.6, 63.9,
  64.2, 64.3, 64.4, 64.3, 64.2, 64.3, 64.4, 64.0, 63.8, 63.9, 64.2, 63.8,
  63.3, 63.2, 63.1, 62.8, 62.5, 62.2, 62.0, 62.6, 63.1, 63.0, 62.8, 63.0,
  63.1, 63.3, 63.4, 63.5, 63.5, 63.8, 64.1, 63.8, 63.6, 63.7, 63.7, 63.9,
  63.9, 64.0, 64.1, 63.8, 63.6, 63.5, 63.5, 63.6, 63.7, 63.9, 64.1, 64.3,
  64.5, 64.4, 64.2, 64.1, 64.1, 64.2, 64.2, 64.6, 64.8, 64.4, 64.1, 64.0,
  64.1, 64.1, 64.2, 64.5, 64.8, 65.0, 65.3, 65.5, 65.6, 65.6, 65.6, 65.5,
  65.6, 65.4, 65.2, 65.1, 65.0, 64.9, 64.9, 64.9, 64.9, 64.8, 64.8, 64.5,
  64.2, 64.2, 64.2, 64.1, 64.2, 64.1, 64.1, 64.1, 64.2, 64.1, 64.1, 64.2,
  64.2, 64.3, 64.3, 64.4, 64.4, 64.4, 64.5, 64.5, 64.5, 64.5, 64.5, 64.6,
  64.8, 64.9, 65.0, 64.8, 64.6, 64.5, 64.5, 64.5, 64.6, 64.6, 64.6, 64.6,
  64.5, 64.6, 64.6, 64.7, 64.8, 64.7, 64.8, 64.8, 64.8, 64.9, 64.8, 64.8,
  64.8, 64.9, 64.9, 65.0, 65.7, 65.0, 65.0, 64.9, 64.9, 64.9, 64.9, 64.8,
  64.8, 64.7, 64.6, 64.6, 64.5, 64.5, 64.5, 64.4, 64.4, 64.4, 64.4, 64.3,
  64.2,
];

const TOP_LINE_STEP = 5; // minutes
const PEAK_STEP = 5; // minutes
const PEAK_MID_OFFSET = 2.5; // minutes
const BOTTOM_LINE_STEP = 10; // minutes
const ENV_STEP = 5; // minutes
const yMajorTicks = [24, 36, 48, 60, 72, 84, 96, 108];
const Y_MINOR_STEP = 3;
const X_MAJOR_STEP = 120; // minutes
const X_MINOR_STEP = 30;
const titleLines = ['data from [425/mic0]', 'starting point is [20240610_000049]'];
const topTitle = 'average and peak noise level (1 min sampling)';
const bottomTitle = 'average noise level (5 min with 15s min/max dB envelope)';
const topLegend = [
  { label: 'peak dB(Z)', color: '#1e90ff', kind: 'dot' },
  { label: 'peak dB(C)', color: '#ff00ff', kind: 'dot' },
  { label: 'peak dB(A)', color: '#2e8b57', kind: 'dot' },
  { label: 'avg dB(Z)', color: '#4682b4', kind: 'line' },
  { label: 'avg dB(C)', color: '#da70d6', kind: 'line' },
  { label: 'avg dB(A)', color: '#9acd32', kind: 'line' },
];
const bottomLegend = [
  { label: 'dB(Z)', color: '#dc143c' },
  { label: 'dB(C)', color: '#ff8c00' },
  { label: 'dB(A)', color: '#ffd700' },
];

// ---------------- LAYOUT ----------------
const FONT = 'DejaVu Sans';
const LEFT = 59.3;
const P1 = { top: 84, bottom: 588, right: 2343.3, xMax: 1439 };
const P2 = { top: 645.3, bottom: 1149.3, right: 2342.3, xMax: 1440 };
const BG = '#fff8dc';

const pad2 = (n: number) => String(n).padStart(2, '0');
const fmtHM = (m: number) => `${pad2(Math.floor(m / 60) % 24)}:${pad2(m % 60)}`;
const fmtHMS = (m: number) => `${pad2(Math.floor(m / 60) % 24)}:${pad2(m % 60)}:00`;

function Frame({ p, x, y, fmt, title, id, children }: any) {
  const yMinor = d3.range(24, 108.01, Y_MINOR_STEP).filter((v) => !yMajorTicks.includes(v));
  const xMajor = d3.range(0, p.xMax + 0.01, X_MAJOR_STEP);
  const xMinor = d3.range(0, p.xMax + 0.01, X_MINOR_STEP).filter((v) => v % X_MAJOR_STEP !== 0);
  const w = p.right - LEFT;
  const h = p.bottom - p.top;
  const midY = (p.top + p.bottom) / 2;
  return (
    <g>
      <defs>
        <clipPath id={id}>
          <rect x={LEFT} y={p.top} width={w} height={h} />
        </clipPath>
      </defs>
      <rect x={LEFT} y={p.top} width={w} height={h} fill={BG} />
      {yMinor.map((v) => (
        <line key={'ym' + v} x1={LEFT} x2={p.right} y1={y(v)} y2={y(v)} stroke="#bdbdbd" strokeWidth={0.8} strokeDasharray="3.5,1.5" />
      ))}
      {xMinor.map((v) => (
        <line key={'xm' + v} x1={x(v)} x2={x(v)} y1={p.top} y2={p.bottom} stroke="#d6cfc0" strokeWidth={0.8} strokeDasharray="2.5,2" />
      ))}
      {yMajorTicks.map((v) => (
        <line key={'yM' + v} x1={LEFT} x2={p.right} y1={y(v)} y2={y(v)} stroke="#b0b0b0" strokeWidth={1.6} />
      ))}
      {xMajor.map((v) => (
        <line key={'xM' + v} x1={x(v)} x2={x(v)} y1={p.top} y2={p.bottom} stroke="#b0b0b0" strokeWidth={1} />
      ))}
      <g clipPath={`url(#${id})`}>{children}</g>
      <rect x={LEFT} y={p.top} width={w} height={h} fill="none" stroke="#000" strokeWidth={1.3} />
      {yMajorTicks.map((v) => (
        <g key={'yt' + v}>
          <line x1={LEFT - 6.5} x2={LEFT} y1={y(v)} y2={y(v)} stroke="#000" strokeWidth={1} />
          <line x1={p.right} x2={p.right + 6.5} y1={y(v)} y2={y(v)} stroke="#000" strokeWidth={1} />
          <text x={LEFT - 13} y={y(v) + 2.8} fontSize={7.6} textAnchor="end" fill="#222">{v}</text>
          <text x={p.right + 12} y={y(v) + 2.8} fontSize={7.6} textAnchor="start" fill="#222">{v}</text>
        </g>
      ))}
      {yMinor.map((v) => (
        <g key={'ytm' + v}>
          <line x1={LEFT - 3} x2={LEFT} y1={y(v)} y2={y(v)} stroke="#000" strokeWidth={0.8} />
          <line x1={p.right} x2={p.right + 3} y1={y(v)} y2={y(v)} stroke="#000" strokeWidth={0.8} />
        </g>
      ))}
      {xMajor.map((v) => (
        <g key={'xt' + v}>
          <line x1={x(v)} x2={x(v)} y1={p.bottom} y2={p.bottom + 6.5} stroke="#000" strokeWidth={1} />
          <text x={x(v)} y={p.bottom + 19} fontSize={7.6} textAnchor="middle" fill="#222">{fmt(v)}</text>
        </g>
      ))}
      {xMinor.map((v) => (
        <line key={'xtm' + v} x1={x(v)} x2={x(v)} y1={p.bottom} y2={p.bottom + 3} stroke="#000" strokeWidth={0.8} />
      ))}
      <text x={LEFT} y={p.top - 10} fontSize={11.5} fontWeight="bold">{title}</text>
      <text x={(LEFT + p.right) / 2} y={p.bottom + 36} fontSize={11.4} textAnchor="middle" fill="#111">time</text>
      <text transform={`translate(23.3,${midY}) rotate(-90)`} fontSize={11.4} textAnchor="middle" fill="#111">dB SPL</text>
      <text transform={`translate(2385,${midY}) rotate(-90)`} fontSize={11.4} textAnchor="middle" fill="#111">dB SPL</text>
    </g>
  );
}

export default function App() {
  const x1 = d3.scaleLinear().domain([0, P1.xMax]).range([LEFT, P1.right]);
  const y1 = d3.scaleLinear().domain([24, 108]).range([P1.bottom, P1.top]);
  const x2 = d3.scaleLinear().domain([0, P2.xMax]).range([LEFT, P2.right]);
  const y2 = d3.scaleLinear().domain([24, 108]).range([P2.bottom, P2.top]);

  const lineTop = d3.line<number>().x((_, i) => x1(i * TOP_LINE_STEP)).y((d) => y1(d));
  const lineBot = d3.line<number>().x((_, i) => x2(i * BOTTOM_LINE_STEP)).y((d) => y2(d));
  const envArea = d3
    .area<number>()
    .x((_, i) => x2(i * ENV_STEP))
    .y0((_, i) => y2(envMin[i]))
    .y1((d) => y2(d));

  const plus = 'M-2.4,0H2.4M0,-2.4V2.4';
  const peakSeries = [
    { data: peakZ, off: 0, color: '#1e90ff' },
    { data: peakZMid, off: PEAK_MID_OFFSET, color: '#1e90ff' },
    { data: peakC, off: 0, color: '#ff00ff' },
    { data: peakCMid, off: PEAK_MID_OFFSET, color: '#ff00ff' },
    { data: peakA, off: 0, color: '#2e8b57' },
    { data: peakAMid, off: PEAK_MID_OFFSET, color: '#2e8b57' },
  ];

  return (
    <svg
      width={2400}
      height={1200}
      viewBox="0 0 2400 1200"
      style={{ position: 'absolute', left: 0, top: 0, background: '#fff' }}
      fontFamily={FONT}
    >
      <rect x={0} y={0} width={2400} height={1200} fill="#fff" />
      {titleLines.map((t, i) => (
        <text key={t} x={24} y={23.5 + i * 15} fontSize={13.8} fontWeight="bold" fill="#000">{t}</text>
      ))}

      <Frame p={P1} x={x1} y={y1} fmt={fmtHM} title={topTitle} id="clipTop">
        {peakSeries.map((s, si) =>
          s.data.map((v, j) => (
            <path key={si + '-' + j} d={plus} transform={`translate(${x1(j * PEAK_STEP + s.off)},${y1(v)})`} stroke={s.color} strokeWidth={1} opacity={0.65} />
          ))
        )}
        <path d={lineTop(avgZ) || ''} fill="none" stroke="#4682b4" strokeWidth={1.3} />
        <path d={lineTop(avgC) || ''} fill="none" stroke="#da70d6" strokeWidth={1.3} />
        <path d={lineTop(avgA) || ''} fill="none" stroke="#9acd32" strokeWidth={1.3} />
      </Frame>

      <Frame p={P2} x={x2} y={y2} fmt={fmtHMS} title={bottomTitle} id="clipBot">
        <path d={envArea(envMax) || ''} fill="#dc143c" fillOpacity={0.13} stroke="#dc143c" strokeOpacity={0.1} strokeWidth={0.6} />
        <path d={lineBot(levelZ) || ''} fill="none" stroke="#dc143c" strokeWidth={1.8} />
        <path d={lineBot(levelC) || ''} fill="none" stroke="#ff8c00" strokeWidth={1.8} />
        <path d={lineBot(levelA) || ''} fill="none" stroke="#ffd700" strokeWidth={1.8} />
      </Frame>

      <g>
        <rect x={2155} y={542} width={183} height={41} rx={3} fill={BG} fillOpacity={0.85} stroke="#e2c9a0" strokeWidth={1} />
        {topLegend.map((e, i) => {
          const col = Math.floor(i / 3);
          const row = i % 3;
          const cy = 550.3 + row * 11.7;
          return (
            <g key={e.label}>
              {e.kind === 'dot' ? (
                <circle cx={2169} cy={cy} r={2} fill={e.color} />
              ) : (
                <line x1={2257} x2={2280} y1={cy} y2={cy} stroke={e.color} strokeWidth={3} />
              )}
              <text x={col === 0 ? 2186 : 2286} y={cy + 3.4} fontSize={9.5} fill="#000">{e.label}</text>
            </g>
          );
        })}
      </g>
      <g>
        <rect x={2277} y={1103} width={61} height={41} rx={3} fill={BG} fillOpacity={0.85} stroke="#e2c9a0" strokeWidth={1} />
        {bottomLegend.map((e, i) => {
          const cy = 1111.3 + i * 11.6;
          return (
            <g key={e.label}>
              <line x1={2279} x2={2301} y1={cy} y2={cy} stroke={e.color} strokeWidth={3} />
              <text x={2308} y={cy + 3.4} fontSize={9.5} fill="#000">{e.label}</text>
            </g>
          );
        })}
      </g>
    </svg>
  );
}
